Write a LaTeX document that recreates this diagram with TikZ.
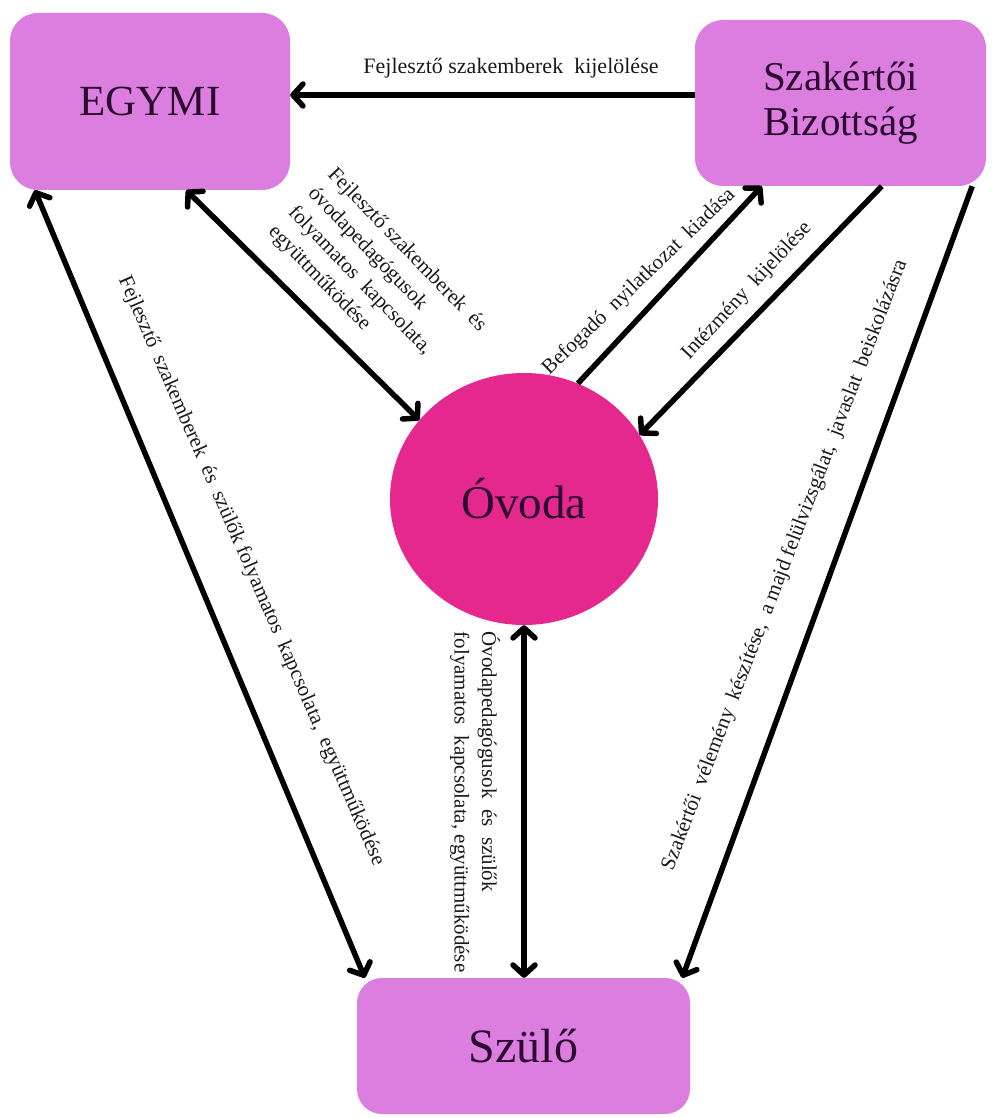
\documentclass[tikz,border=0pt]{standalone}
\usepackage{fontspec}
\setmainfont{Liberation Serif}
\usetikzlibrary{arrows.meta,shapes.geometric}
\definecolor{boxc}{RGB}{220,126,223}
\definecolor{ovc}{RGB}{229,40,142}
\definecolor{txtc}{RGB}{43,11,48}
\definecolor{lblc}{RGB}{25,25,25}
\begin{document}
\begin{tikzpicture}[x=1pt,y=-1pt,
  box/.style={rectangle, rounded corners=28pt, fill=boxc, text=txtc, inner sep=0pt, align=center},
  conn/.style={line width=5.5pt, draw=black},
  lbl/.style={font=\fontsize{21}{27.5}\selectfont, text=lblc, inner sep=0pt, align=left},
  >={Straight Barb[length=10pt,width=22pt,round]}]
\useasboundingbox (0,0) rectangle (991,1118);

\node[box, minimum width=280pt, minimum height=177pt, font=\fontsize{43}{46}\selectfont] (egymi) at (150,101.5) {EGYMI};
\node[box, minimum width=291pt, minimum height=166pt, font=\fontsize{41}{45}\selectfont] (szb) at (840.5,103) {Szakértői\\Bizottság};
\node[ellipse, fill=ovc, text=txtc, inner sep=0pt, minimum width=268pt, minimum height=252pt, font=\fontsize{47}{50}\selectfont] (ovoda) at (524,499) {Óvoda};
\node[box, rounded corners=25pt, minimum width=333pt, minimum height=136pt, font=\fontsize{48}{52}\selectfont] (szulo) at (523.5,1046) {Szülő};

% anchor points on the boxes
\coordinate (a1) at ([yshift=8pt]szb.west);
\coordinate (a2) at ([xshift=-104pt]egymi.south east);
\coordinate (a3) at ([xshift=67pt]szb.south west);
\coordinate (a4) at ([xshift=187pt]szb.south west);
\coordinate (a5) at ([xshift=25pt]egymi.south west);
\coordinate (a6) at ([xshift=8pt]szulo.north west);
\coordinate (a7) at ([xshift=-14pt]szb.south east);
\coordinate (a8) at ([xshift=-8pt]szulo.north east);

\draw[conn,->] (a1) -- (a1 -| egymi.east);
\draw[conn,<->] (a2) -- (ovoda.143);
\draw[conn,->] (ovoda.65) -- (a3);
\draw[conn,->] (a4) -- (ovoda.29);
\draw[conn,<->] (a5) -- (a6);
\draw[conn,<->] (ovoda.south) -- (ovoda.south |- szulo.north);
\draw[conn,->] (a7) -- (a8);

% labels
\node[lbl, font=\fontsize{22}{27.5}\selectfont] (l0) at (511,68) {Fejlesztő szakemberek\ \ kijelölése};
\node[lbl, rotate=-46] (l1) at (377,279) {Fejlesztő szakemberek\ \ és\\óvodapedagógusok\\folyamatos\ \ kapcsolata,\\együttműködése};
\node[lbl, rotate=44] (l2) at (639,282) {Befogadó\ \ nyilatkozat\ \ kiadása};
\node[lbl, rotate=47] (l3) at (747,291) {Intézmény\ \ kijelölése};
\node[lbl, rotate=-66.5] (l4) at (251,571) {Fejlesztő\ \ szakemberek\ \ és\ \ szülők\ folyamatos\ \ kapcsolata,\ \ együttműködése};
\node[lbl, rotate=69] (l5) at (785,565) {Szakértői\ \ vélemény\ \ készítése,\ \ a majd felülvizsgálat,\ \ javaslat\ \ beiskolázásra};
\node[lbl, rotate=-90] (l6) at (475,802) {Óvodapedagógusok\ \ és\ \ szülők\\folyamatos\ \ kapcsolata,\ együttműködése};
\end{tikzpicture}
\end{document}
